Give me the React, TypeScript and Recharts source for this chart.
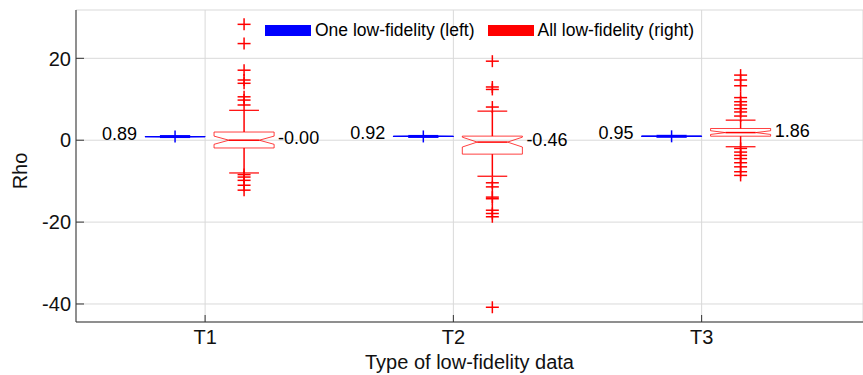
import React from "react"
import { ComposedChart, XAxis, YAxis, CartesianGrid, Scatter, ReferenceLine, Legend } from "recharts"

const FONT = "'Liberation Sans', Arial, Helvetica, sans-serif"

const categories = ["T1", "T2", "T3"]
const xTicks = [1, 2, 3]
const yTicks = [-40, -20, 0, 20]

// one low-fidelity (blue, left box of each pair)
const oneMedian = [0.89, 0.92, 0.95]
const oneQ1 = [0.87, 0.9, 0.93]
const oneQ3 = [0.91, 0.94, 0.97]
const oneOutliers = [[0.89], [0.92], [0.95]]
const oneLabels = ["0.89", "0.92", "0.95"]

// all low-fidelity (red, right box of each pair)
const allMedian = [0.0, -0.46, 1.86]
const allQ1 = [-1.9, -3.4, 0.98]
const allQ3 = [2.0, 1.0, 2.86]
const allLow = [-8.0, -8.8, -1.6]
const allHigh = [7.3, 7.1, 4.9]
const allNotch = [1.0, 1.2, 0.45]
const allLabels = ["-0.00", "-0.46", "1.86"]
const allOutliers = [
  [28.3, 23.6, 17.1, 14.7, 13.9, 10.6, 9.8, 8.6, -8.4, -9.0, -9.8, -11.0, -12.2],
  [19.3, 13.0, 12.4, 8.1, -10.4, -11.4, -13.9, -14.3, -17.1, -17.9, -18.7, -40.8],
  [15.9, 14.7, 13.3, 10.4, 9.4, 8.6, 7.7, 6.9, 5.9, -2.0, -2.9, -3.7, -4.5, -5.5, -6.5, -7.7, -8.6],
]

// box geometry in x-axis units
const BLUE_OFF = -0.121
const RED_OFF = 0.157
const HALF = 0.121
const NOTCH_IN = 0.06
const CAP = 0.06

type Pt = { x: number; y: number }

function boxSegments(c: number, q1: number, q3: number, med: number, notch: number): [Pt, Pt][] {
  const L = c - HALF
  const R = c + HALF
  const pts: Pt[] = [
    { x: L, y: q3 }, { x: L, y: med + notch }, { x: L + NOTCH_IN, y: med }, { x: L, y: med - notch },
    { x: L, y: q1 }, { x: R, y: q1 }, { x: R, y: med - notch }, { x: R - NOTCH_IN, y: med },
    { x: R, y: med + notch }, { x: R, y: q3 }, { x: L, y: q3 },
  ]
  const segs: [Pt, Pt][] = []
  for (let i = 0; i < pts.length - 1; i++) segs.push([pts[i], pts[i + 1]])
  return segs
}

const Plus = (props: any) => {
  const { cx, cy, fill } = props
  return (
    <g stroke={fill} strokeWidth={1.5}>
      <line x1={cx - 6.5} x2={cx + 6.5} y1={cy} y2={cy} />
      <line x1={cx} x2={cx} y1={cy - 6} y2={cy + 6} />
    </g>
  )
}

const LeftLabel = (props: any) => (
  <text x={props.cx - 8} y={props.cy} dy={-3} dominantBaseline="central" textAnchor="end" fontSize={18} fontFamily={FONT} fill="#000">
    {props.payload.text}
  </text>
)

const RightLabel = (props: any) => (
  <text x={props.cx + 4} y={props.cy} dy={-2} dominantBaseline="central" textAnchor="start" fontSize={18} fontFamily={FONT} fill="#000">
    {props.payload.text}
  </text>
)

const BottomTick = (props: any) => {
  const { x, y, payload } = props
  return (
    <g>
      <line x1={x} x2={x} y1={y - 4} y2={y - 11} stroke="#333" />
      <text x={x} y={y} dy={18} textAnchor="middle" fontSize={20} fontFamily={FONT} fill="#111">
        {categories[payload.value - 1]}
      </text>
    </g>
  )
}

const TopTick = (props: any) => <line x1={props.x} x2={props.x} y1={props.y} y2={props.y + 7} stroke="#333" />

const LeftTick = (props: any) => {
  const { x, y, payload } = props
  return (
    <g>
      <line x1={x + 5} x2={x + 13} y1={y} y2={y} stroke="#333" />
      <text x={x} y={y} dy="0.36em" textAnchor="end" fontSize={20} fontFamily={FONT} fill="#111">
        {payload.value}
      </text>
    </g>
  )
}

const RightTick = (props: any) => <line x1={props.x} x2={props.x - 7} y1={props.y} y2={props.y} stroke="#333" />

const LegendContent = () => (
  <div style={{ display: "flex", alignItems: "center", fontSize: 17.5, fontFamily: FONT, color: "#000", whiteSpace: "nowrap", lineHeight: "20px" }}>
    <span style={{ display: "inline-block", width: 46, height: 11, background: "#0000ff", marginRight: 4 }} />
    <span>One low-fidelity (left)</span>
    <span style={{ display: "inline-block", width: 46, height: 11, background: "#ff0000", marginLeft: 13, marginRight: 4 }} />
    <span>All low-fidelity (right)</span>
  </div>
)

export default function App() {
  const redOut = allOutliers.flatMap((vals, i) => vals.map((v) => ({ x: xTicks[i] + RED_OFF, y: v })))
  const blueOut = oneOutliers.flatMap((vals, i) => vals.map((v) => ({ x: xTicks[i] + BLUE_OFF, y: v })))
  const blueLab = oneMedian.map((m, i) => ({ x: xTicks[i] + BLUE_OFF - HALF, y: m, text: oneLabels[i] }))
  const redLab = allMedian.map((m, i) => ({ x: xTicks[i] + RED_OFF + HALF, y: m, text: allLabels[i] }))

  const lines: React.ReactNode[] = []
  xTicks.forEach((t, i) => {
    const rc = t + RED_OFF
    boxSegments(rc, allQ1[i], allQ3[i], allMedian[i], allNotch[i]).forEach((s, j) =>
      lines.push(<ReferenceLine key={`rb${i}-${j}`} segment={s} stroke="#ff0000" strokeOpacity={0.75} strokeWidth={1} ifOverflow="visible" />)
    )
    lines.push(<ReferenceLine key={`rm${i}`} segment={[{ x: rc - HALF + NOTCH_IN, y: allMedian[i] }, { x: rc + HALF - NOTCH_IN, y: allMedian[i] }]} stroke="#ff0000" strokeWidth={1.5} ifOverflow="visible" />)
    lines.push(<ReferenceLine key={`rwh${i}`} segment={[{ x: rc, y: allQ3[i] }, { x: rc, y: allHigh[i] }]} stroke="#ff0000" strokeWidth={1.5} ifOverflow="visible" />)
    lines.push(<ReferenceLine key={`rwl${i}`} segment={[{ x: rc, y: allQ1[i] }, { x: rc, y: allLow[i] }]} stroke="#ff0000" strokeWidth={1.5} ifOverflow="visible" />)
    lines.push(<ReferenceLine key={`rch${i}`} segment={[{ x: rc - CAP, y: allHigh[i] }, { x: rc + CAP, y: allHigh[i] }]} stroke="#ff0000" strokeWidth={1.2} ifOverflow="visible" />)
    lines.push(<ReferenceLine key={`rcl${i}`} segment={[{ x: rc - CAP, y: allLow[i] }, { x: rc + CAP, y: allLow[i] }]} stroke="#ff0000" strokeWidth={1.2} ifOverflow="visible" />)

    const bc = t + BLUE_OFF
    boxSegments(bc, oneQ1[i], oneQ3[i], oneMedian[i], 0.01).forEach((s, j) =>
      lines.push(<ReferenceLine key={`bb${i}-${j}`} segment={s} stroke="#0000ff" strokeWidth={1.2} ifOverflow="visible" />)
    )
    lines.push(<ReferenceLine key={`bm${i}`} segment={[{ x: bc - HALF + NOTCH_IN, y: oneMedian[i] }, { x: bc + HALF - NOTCH_IN, y: oneMedian[i] }]} stroke="#0000ff" strokeWidth={3} ifOverflow="visible" />)
  })

  return (
    <div style={{ position: "absolute", left: 0, top: 0, width: 863, height: 375, background: "#fff", fontFamily: FONT }}>
      <ComposedChart width={863} height={375} margin={{ top: 10, right: 0, bottom: 0, left: 0 }}>
        <CartesianGrid stroke="#d9d9d9" />
        <XAxis
          dataKey="x"
          type="number"
          domain={[0.48, 3.65]}
          allowDataOverflow
          ticks={xTicks}
          height={53}
          tickSize={0}
          tickMargin={4}
          tickLine={false}
          axisLine={{ stroke: "#333" }}
          tick={<BottomTick />}
          label={{ value: "Type of low-fidelity data", position: "insideBottom", offset: 6.5, fontSize: 20, fontFamily: FONT, fill: "#111" }}
        />
        <XAxis xAxisId="top" orientation="top" type="number" domain={[0.48, 3.65]} allowDataOverflow ticks={xTicks} height={0} tickSize={0} tickMargin={0} tickLine={false} axisLine={{ stroke: "#333" }} tick={<TopTick />} />
        <YAxis
          dataKey="y"
          type="number"
          domain={[-44.4, 31.8]}
          allowDataOverflow
          ticks={yTicks}
          width={76}
          tickSize={0}
          tickMargin={5}
          tickLine={false}
          axisLine={{ stroke: "#333" }}
          tick={<LeftTick />}
          label={{
            content: (p: any) => (
              <text x={p.viewBox.x + 20} y={p.viewBox.y + p.viewBox.height / 2 + 5} transform={`rotate(-90, ${p.viewBox.x + 20}, ${p.viewBox.y + p.viewBox.height / 2 + 5})`} textAnchor="middle" dominantBaseline="central" fontSize={20} fontFamily={FONT} fill="#111">
                Rho
              </text>
            ),
          }}
        />
        <YAxis yAxisId="right" orientation="right" type="number" domain={[-44.4, 31.8]} allowDataOverflow ticks={yTicks} width={0} tickSize={0} tickMargin={0} tickLine={false} axisLine={false} tick={<RightTick />} />
        <Legend layout="vertical" align="center" verticalAlign="middle" content={<LegendContent />} wrapperStyle={{ position: "absolute", top: 20, left: 265, width: "auto" }} />
        {lines}
        <Scatter data={redOut} fill="#ff0000" shape={<Plus />} isAnimationActive={false} />
        <Scatter data={blueOut} fill="#0000ff" shape={<Plus />} isAnimationActive={false} />
        <Scatter data={blueLab} fill="#000" shape={<LeftLabel />} isAnimationActive={false} />
        <Scatter data={redLab} fill="#000" shape={<RightLabel />} isAnimationActive={false} />
      </ComposedChart>
    </div>
  )
}
